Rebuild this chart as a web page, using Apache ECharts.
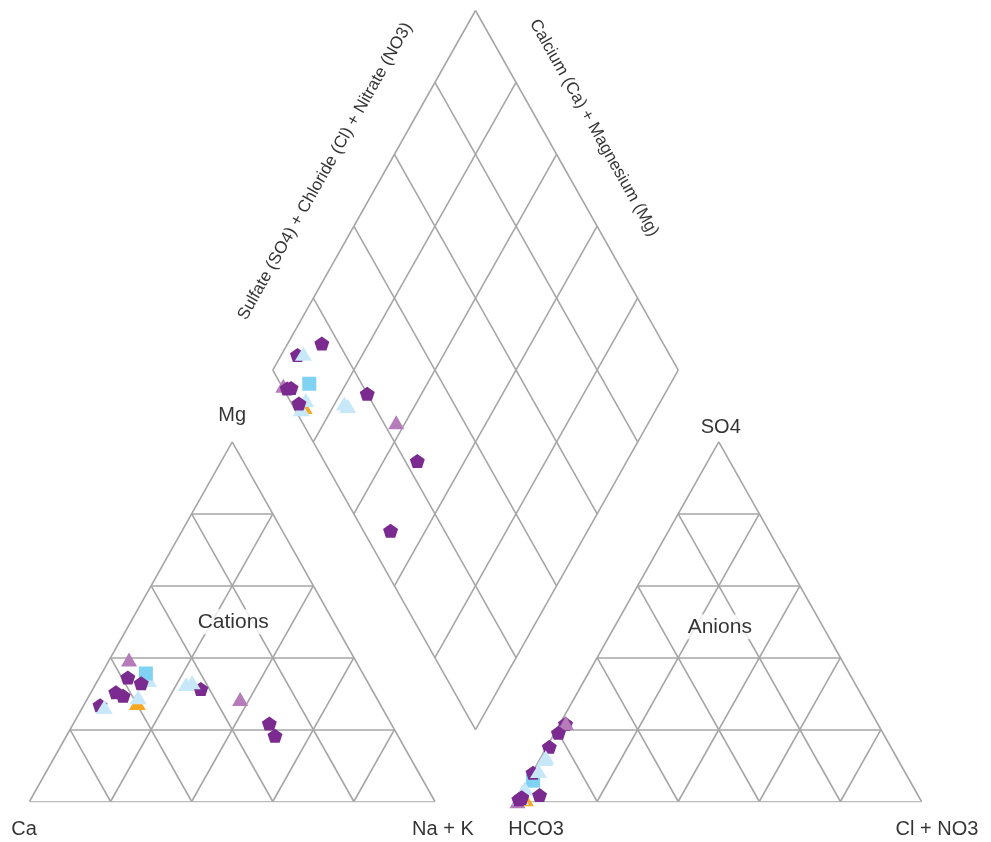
<!DOCTYPE html>
<html><head><meta charset="utf-8">
<script src="https://cdn.jsdelivr.net/npm/echarts@6/dist/echarts.min.js"></script>
<style>html,body{margin:0;padding:0;background:#fff}#chart{width:991px;height:842px}</style>
</head><body><div id="chart"></div>
<script>
// ---- Data (percent of meq), samples listed in drawing order ----
const sampleGroup = ['orange','mauve','purple','mauve','lightblue','sky','purple','lightblue','lightblue','purple','purple','purple','purple','purple','purple','lightblue','lightblue'];
const sampleCa   = [59.7, 55.7, 30.0, 33.8, 53.7, 53.5, 69.2, 68.4, 58.7, 63.5, 62.2, 58.5, 56.0, 42.1, 30.3, 45.0, 43.3];
const sampleMg   = [27.4, 39.5, 21.7, 28.5, 33.8, 35.6, 26.8, 26.3, 29.0, 30.4, 29.4, 34.5, 32.9, 31.3, 18.3, 32.7, 33.2];
const sampleNaK  = [12.9,  4.8, 48.3, 37.7, 12.5, 10.9,  4.0,  5.3, 12.3,  6.1,  8.4,  7.0, 11.1, 26.6, 51.4, 22.3, 23.5];
const sampleHCO3 = [97.4, 99.6, 77.0, 76.8, 98.4, 92.9, 91.8, 90.2, 96.0, 99.0, 84.2, 98.0, 98.2, 80.0, 93.3, 87.0, 86.5];
const sampleSO4  = [ 0.6,  0.1, 21.6, 21.8,  1.0,  5.8,  8.0,  8.5,  3.7,  0.6, 15.2,  1.2,  1.0, 19.1,  1.8, 11.8, 12.3];
const sampleCl   = [ 2.0,  0.3,  1.4,  1.4,  0.6,  1.3,  0.2,  1.3,  0.3,  0.4,  0.6,  0.8,  0.8,  0.9,  4.9,  1.2,  1.2];

const gridTicks = [20, 40, 60, 80];
const cornerLabels = ['Ca', 'Na + K', 'Mg', 'HCO3', 'Cl + NO3', 'SO4'];
const fieldLabels = ['Cations', 'Anions'];
const diamondLabels = ['Sulfate (SO4) + Chloride (Cl) + Nitrate (NO3)', 'Calcium (Ca) + Magnesium (Mg)'];

// ---- Styles ----
const groupStyle = {
  purple:    {symbol: 'path://M0,-1L0.951,-0.309L0.588,0.809L-0.588,0.809L-0.951,-0.309Z', size: [15, 14], color: '#7b2b8f'},
  mauve:     {symbol: 'triangle', size: [16, 14], color: '#b57cb9'},
  lightblue: {symbol: 'triangle', size: [17, 14], color: '#c6e8f9'},
  sky:       {symbol: 'rect', size: [14, 14], color: '#7fd2f2'},
  orange:    {symbol: 'triangle', size: [17, 14], color: '#f7a823'}
};
const FONT = "'Liberation Sans', Arial, sans-serif";

// ---- Piper transforms (triangle side = 100 units, gap = 20 units) ----
const GAP = 20, OFF = 100 + GAP;
function cationXY(ca, mg, nak) { const s = ca + mg + nak; const m = mg / s * 100, n = nak / s * 100; return [n + m / 2, m]; }
function anionXY(hco3, so4, cl) { const s = hco3 + so4 + cl; const so = so4 / s * 100, c = cl / s * 100; return [OFF + c + so / 2, so]; }
function diamondXY(ca, mg, nak, hco3, so4, cl) {
  const n = nak / (ca + mg + nak) * 100, sc = (so4 + cl) / (hco3 + so4 + cl) * 100;
  return [(n + OFF + sc) / 2, OFF + sc - n];
}

// ---- Grid segments ----
const segs = [];
function tri(ox) {
  segs.push([[ox, 0], [ox + 100, 0]], [[ox + 100, 0], [ox + 50, 100]], [[ox + 50, 100], [ox, 0]]);
  gridTicks.forEach(k => {
    segs.push([[ox + k / 2, k], [ox + 100 - k / 2, k]]);
    segs.push([[ox + k, 0], [ox + 50 + k / 2, 100 - k]]);
    segs.push([[ox + 100 - k, 0], [ox + (100 - k) / 2, 100 - k]]);
  });
}
tri(0); tri(OFF);
const dB = [110, 20], dL = [60, 120], dT = [110, 220], dR = [160, 120];
segs.push([dB, dL], [dL, dT], [dT, dR], [dR, dB]);
gridTicks.forEach(k => {
  const t = k / 100;
  segs.push([[110 - 50 * t, 20 + 100 * t], [160 - 50 * t, 120 + 100 * t]]);
  segs.push([[110 + 50 * t, 20 + 100 * t], [60 + 50 * t, 120 + 100 * t]]);
});

// ---- Labels ----
const lbl = (value, name, extra) => ({value, name, label: extra});
const labelData = [
  lbl([0, 0], cornerLabels[0], {offset: [-5.5, 27.5]}),
  lbl([100, 0], cornerLabels[1], {offset: [8, 27.5]}),
  lbl([50, 100], cornerLabels[2], {offset: [0, -26]}),
  lbl([OFF, 0], cornerLabels[3], {offset: [20, 27.5]}),
  lbl([OFF + 100, 0], cornerLabels[4], {offset: [15.5, 27.5]}),
  lbl([OFF + 50, 100], cornerLabels[5], {offset: [2, -14]}),
  lbl([50, 50], fieldLabels[0], {offset: [1, 0], fontSize: 21, backgroundColor: '#fff', padding: [2, 3]}),
  lbl([OFF + 50, 50], fieldLabels[1], {offset: [1, 5], fontSize: 21, backgroundColor: '#fff', padding: [2, 3]}),
  lbl([85, 170], diamondLabels[0], {offset: [-7.5, -52], rotate: 60.6, fontSize: 17}),
  lbl([135, 170], diamondLabels[1], {offset: [-45.9, -45.5], rotate: -60.6, fontSize: 17})
];

const series = [
  {
    type: 'lines', coordinateSystem: 'cartesian2d', z: 1, silent: true,
    lineStyle: {color: '#a6a6a6', width: 1.6, opacity: 1},
    data: segs.map(s => ({coords: s}))
  },
  {
    type: 'scatter', z: 3, silent: true, symbolSize: 1, clip: false,
    itemStyle: {color: 'rgba(0,0,0,0)'},
    label: {show: true, position: 'inside', formatter: '{b}', color: '#000', fontSize: 20, fontFamily: FONT, align: 'center', verticalAlign: 'middle'},
    data: labelData
  }
];
sampleGroup.forEach((g, i) => {
  const st = groupStyle[g];
  const ca = sampleCa[i], mg = sampleMg[i], nak = sampleNaK[i];
  const hc = sampleHCO3[i], so = sampleSO4[i], cl = sampleCl[i];
  series.push({
    type: 'scatter', z: 4, silent: true, clip: false,
    symbol: st.symbol, symbolSize: st.size, symbolKeepAspect: false,
    itemStyle: {color: st.color, opacity: 1},
    data: [cationXY(ca, mg, nak), anionXY(hc, so, cl), diamondXY(ca, mg, nak, hc, so, cl)]
  });
});

const chart = echarts.init(document.getElementById('chart'), null, {renderer: 'canvas'});
chart.setOption({
  animation: false,
  backgroundColor: '#fff',
  grid: {left: 29.5, top: 10.5, width: 892, height: 791, show: false},
  xAxis: {type: 'value', min: 0, max: 220, show: false},
  yAxis: {type: 'value', min: 0, max: 220, show: false},
  series: series
});
</script>
</body></html>
